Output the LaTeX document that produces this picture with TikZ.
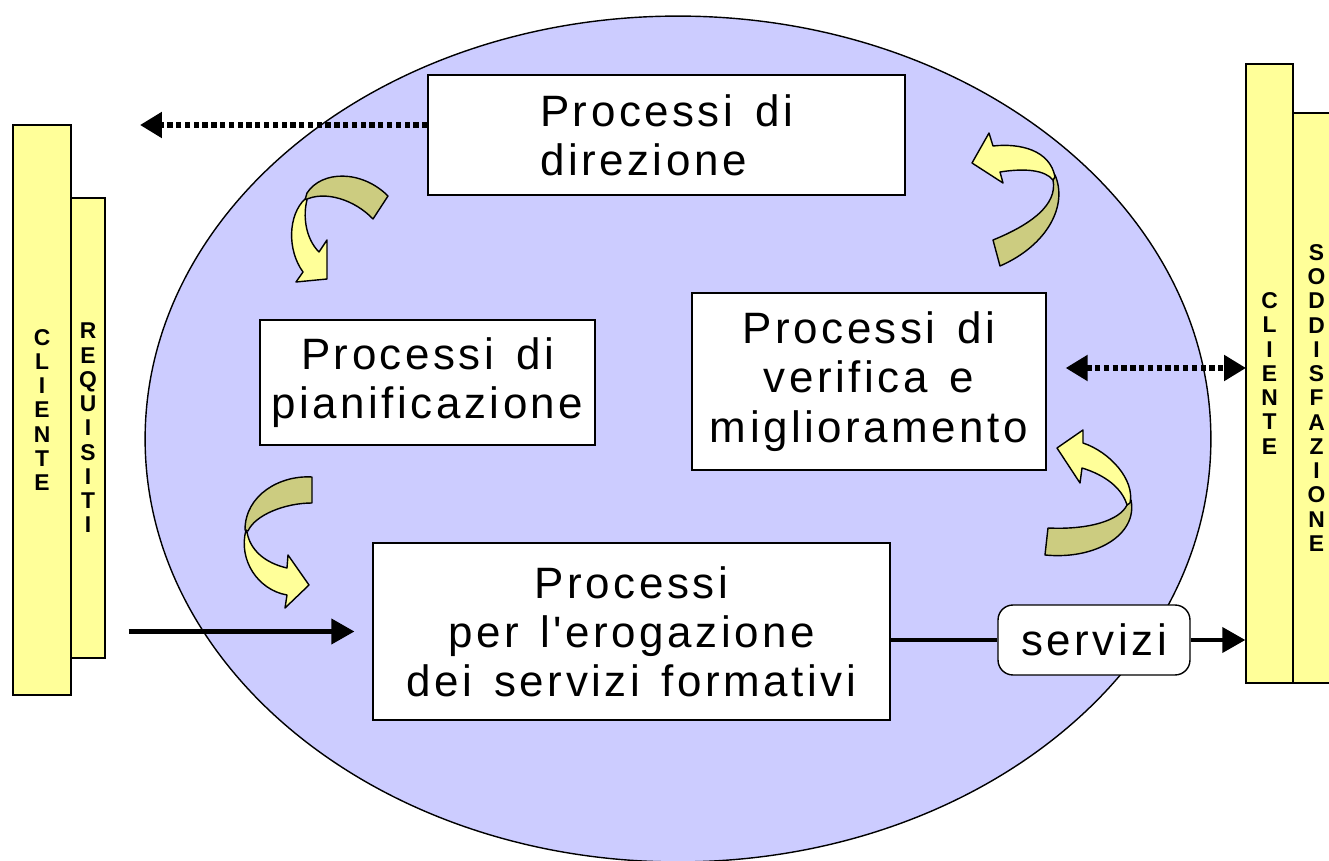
\documentclass[tikz,border=0pt]{standalone}
\usepackage{fontspec}
\setmainfont{Liberation Sans}
\newfontfamily\procfont[LetterSpace=8,WordSpace=1.4]{Liberation Sans}
\usepackage{tikz}
\usetikzlibrary{positioning}
\usetikzlibrary{arrows.meta}

\definecolor{lilac}{RGB}{204,204,255}
\definecolor{paleyellow}{RGB}{255,255,153}
\definecolor{bandolive}{RGB}{204,204,128}

\begin{document}
\begin{tikzpicture}[x=0.02cm,y=-0.02cm,
    procbox/.style={draw,line width=0.8pt,fill=white,inner sep=0pt,
      font=\procfont\fontsize{25}{28}\selectfont},
    sidebox/.style={draw,line width=0.8pt,fill=paleyellow,inner sep=0pt,
      align=center,font=\bfseries\fontsize{13}{13.8}\selectfont},
    ribbon/.style={draw,line width=0.8pt,line join=round},
    dotline/.style={line width=3pt,dash pattern=on 3pt off 2pt},
    flow/.style={line width=2.3pt}]
      \useasboundingbox (0,0) rectangle (1329,861);
      \draw[line width=0.8pt,fill=lilac] (678,439) ellipse [x radius=10.66cm,y radius=8.46cm];

      % processi
      \node[procbox,minimum width=9.54cm,minimum height=2.4cm,align=left] (dir) at (666.5,135) {Processi di\\direzione};
      \node[procbox,minimum width=6.7cm,minimum height=2.5cm,align=center] (pian) at (427.5,382.5) {Processi di\\pianificazione};
      \node[procbox,minimum width=7.08cm,minimum height=3.54cm,align=center] (verif) at (869,381.5) {Processi di\\verifica e\\miglioramento};
      \node[procbox,minimum width=10.34cm,minimum height=3.54cm,align=center] (erog) at (631.5,631.5) {Processi\\per l'erogazione\\dei servizi formativi};
      \node[procbox,rounded corners=0.3cm,minimum width=3.84cm,minimum height=1.4cm] (serv) at (1094,640) {servizi};

      % cliente
      \node[sidebox,minimum width=0.68cm,minimum height=9.2cm] (req) at (88,428) {R\\E\\Q\\U\\I\\S\\I\\T\\I};
      \node[sidebox,minimum width=1.16cm,minimum height=11.4cm] (clin) at (42,410) {C\\L\\I\\E\\N\\T\\E};
      \node[sidebox,minimum width=0.94cm,minimum height=11.4cm] (sodd) at (1316.5,398) {S\\O\\D\\D\\I\\S\\F\\A\\Z\\I\\O\\N\\E};
      \node[sidebox,minimum width=0.94cm,minimum height=12.38cm] (clout) at (1269.5,373.5) {C\\L\\I\\E\\N\\T\\E};

      % frecce
      \coordinate (leftmark) at (140,125);
      \coordinate (rightmark) at (1246,368);
      \draw[dotline,-{Triangle[length=0.44cm,width=0.5cm]}] (dir.west |- leftmark) -- (leftmark);
      \draw[dotline,{Triangle[length=0.44cm,width=0.5cm]}-{Triangle[length=0.44cm,width=0.5cm]}]
        ([xshift=0.38cm]verif.east |- rightmark) -- (rightmark);
      \draw[flow,-{Triangle[length=0.46cm,width=0.5cm]},shorten <=0.46cm,shorten >=0.36cm] (req.east |- erog.west) -- (erog.west);
      \draw[flow] (serv.west -| erog.east) -- (serv.west);
      \draw[flow,-{Triangle[length=0.46cm,width=0.5cm]}] (serv.east) -- (serv.east -| clout.west);

      % nastri
      \draw[ribbon,fill=bandolive] (307,193) .. controls (322,170) and (362,170) .. (388,196) -- (373,219) .. controls (355,200) and (325,190) .. (305,200) -- cycle;
      \draw[ribbon,fill=paleyellow] (305,199) .. controls (288,215) and (287,250) .. (303,272) -- (296,282) -- (327,279) -- (327,240) -- (319,252) .. controls (305,238) and (303,215) .. (307,200) -- cycle;

      \draw[ribbon,fill=bandolive] (1055,175) .. controls (1068,205) and (1048,245) .. (1000,266) -- (993,240) .. controls (1030,225) and (1058,205) .. (1053,180) -- cycle;
      \draw[ribbon,fill=paleyellow] (1055,177) .. controls (1050,150) and (1020,143) .. (993,146) -- (989,133) -- (972,163) -- (1003,183) -- (1000,172) .. controls (1025,168) and (1045,170) .. (1053,180) -- cycle;

      \draw[ribbon,fill=bandolive] (1131,500) .. controls (1138,535) and (1095,560) .. (1045,555) -- (1048,528) .. controls (1090,530) and (1120,520) .. (1127,505) -- cycle;
      \draw[ribbon,fill=paleyellow] (1130,503) .. controls (1135,480) and (1110,452) .. (1083,443) -- (1083,430) -- (1057,448) -- (1080,483) -- (1082,468) .. controls (1105,475) and (1122,488) .. (1127,505) -- cycle;

      \draw[ribbon,fill=bandolive] (312,477) .. controls (280,475) and (245,495) .. (245,530) -- (248,531) .. controls (255,515) and (285,503) .. (312,503) -- cycle;
      \draw[ribbon,fill=paleyellow] (246,530) .. controls (238,560) and (258,590) .. (287,595) -- (285,608) -- (309,585) -- (288,555) -- (287,568) .. controls (265,563) and (250,550) .. (247,532) -- cycle;
    \end{tikzpicture}
\end{document}
